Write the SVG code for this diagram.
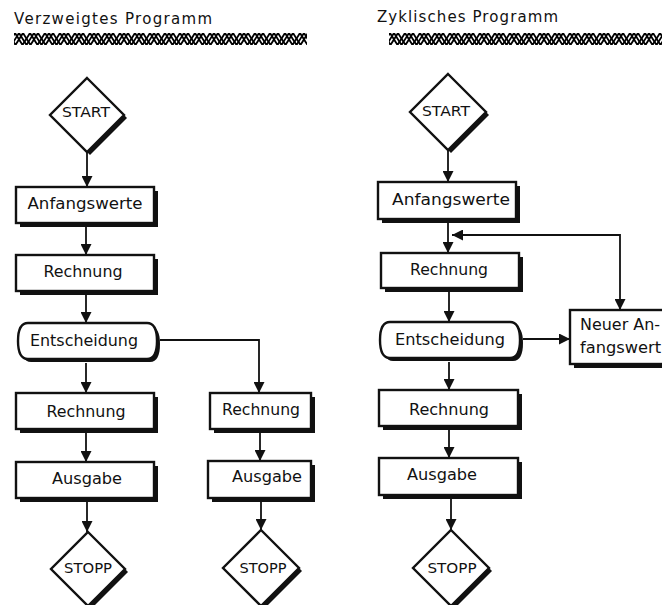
<svg xmlns="http://www.w3.org/2000/svg" width="662" height="605" viewBox="0 0 662 605">
<style>
.lbl{font-family:"DejaVu Sans","Liberation Sans",sans-serif;font-size:16px;fill:#111}
.sm{font-size:14px}
.ttl{font-family:"DejaVu Sans","Liberation Sans",sans-serif;font-size:15px;fill:#111}
.box{fill:#fff;stroke:#111;stroke-width:2.4}
.sh{fill:#111}
.con{fill:none;stroke:#111;stroke-width:1.8}
</style>
<defs>
<marker id="ah" viewBox="0 0 10 10" markerWidth="11" markerHeight="11" refX="10" refY="5" orient="auto-start-reverse" markerUnits="userSpaceOnUse">
<path d="M0,0 L10,5 L0,10 Z" fill="#111"/>
</marker>
<pattern id="zig" patternUnits="userSpaceOnUse" x="0" y="33" width="15" height="12">
<g fill="none" stroke="#000" stroke-width="1.8">
<path d="M-15,0 L-7.5,12 L0,0 L7.5,12 L15,0 L22.5,12"/>
<path d="M-11,0 L-3.5,12 L4,0 L11.5,12 L19,0 L26.5,12"/>
<path d="M-7,0 L0.5,12 L8,0 L15.5,12 L23,0 L30.5,12"/>
</g>
</pattern>
</defs>

<g id="titles">
<text class="ttl" x="14" y="24" textLength="198" lengthAdjust="spacing">Verzweigtes Programm</text>
<rect x="14" y="33" width="293" height="12" fill="url(#zig)"/>
<text class="ttl" x="377" y="22" textLength="181" lengthAdjust="spacing">Zyklisches Programm</text>
<rect x="389" y="33" width="273" height="12" fill="url(#zig)"/>
</g>

<g id="connectors">
<path class="con" d="M87,152 V187" marker-end="url(#ah)"/>
<path class="con" d="M86,227 V255" marker-end="url(#ah)"/>
<path class="con" d="M86,295 V323" marker-end="url(#ah)"/>
<path class="con" d="M86,363 V393" marker-end="url(#ah)"/>
<path class="con" d="M86,433 V462" marker-end="url(#ah)"/>
<path class="con" d="M87,502 V532" marker-end="url(#ah)"/>
<path class="con" d="M160,340 H259 V393" marker-end="url(#ah)"/>
<path class="con" d="M260,433 V461" marker-end="url(#ah)"/>
<path class="con" d="M261,502 V530" marker-end="url(#ah)"/>

<path class="con" d="M448,149 V182" marker-end="url(#ah)"/>
<path class="con" d="M448,223 V253" marker-end="url(#ah)"/>
<path class="con" d="M452,235 H620 V310" marker-start="url(#ah)" marker-end="url(#ah)"/>
<path class="con" d="M449,292 V322" marker-end="url(#ah)"/>
<path class="con" d="M523,339 H570" marker-end="url(#ah)"/>
<path class="con" d="M449,362 V390" marker-end="url(#ah)"/>
<path class="con" d="M449,430 V458" marker-end="url(#ah)"/>
<path class="con" d="M451,499 V530" marker-end="url(#ah)"/>
</g>

<g id="start1">
<polygon class="sh" points="90,81 127,118 90,155 53,118"/>
<polygon class="box" points="87,78 124,115 87,152 50,115"/>
<text class="lbl sm" x="86" y="117" text-anchor="middle" textLength="48" lengthAdjust="spacingAndGlyphs">START</text>
</g>
<g id="anfang1">
<rect class="sh" x="20" y="191" width="138" height="36"/>
<rect class="box" x="16" y="187" width="138" height="36"/>
<text class="lbl" x="85" y="209" text-anchor="middle" textLength="115" lengthAdjust="spacingAndGlyphs">Anfangswerte</text>
</g>
<g id="rechnung1">
<rect class="sh" x="20" y="259" width="138" height="36"/>
<rect class="box" x="16" y="255" width="138" height="36"/>
<text class="lbl" x="83" y="277" text-anchor="middle" textLength="79" lengthAdjust="spacingAndGlyphs">Rechnung</text>
</g>
<g id="entsch1">
<path class="sh" d="M31,326 H150 C157,326 160,333 160,344 C160,355 157,362 150,362 H31 C24,362 21,355 21,344 C21,333 24,326 31,326 Z"/>
<path class="box" d="M28,323 H147 C154,323 157,330 157,341 C157,352 154,359 147,359 H28 C21,359 18,352 18,341 C18,330 21,323 28,323 Z"/>
<text class="lbl" x="84" y="346" text-anchor="middle" textLength="108" lengthAdjust="spacingAndGlyphs">Entscheidung</text>
</g>
<g id="rechnung2">
<rect class="sh" x="20" y="397" width="138" height="36"/>
<rect class="box" x="16" y="393" width="138" height="36"/>
<text class="lbl" x="86" y="417" text-anchor="middle" textLength="79" lengthAdjust="spacingAndGlyphs">Rechnung</text>
</g>
<g id="ausgabe1">
<rect class="sh" x="20" y="466" width="138" height="36"/>
<rect class="box" x="16" y="462" width="138" height="36"/>
<text class="lbl" x="87" y="484" text-anchor="middle" textLength="70" lengthAdjust="spacingAndGlyphs">Ausgabe</text>
</g>
<g id="stopp1">
<polygon class="sh" points="91,535 128,572 91,609 54,572"/>
<polygon class="box" points="88,532 125,569 88,606 51,569"/>
<text class="lbl sm" x="88" y="573" text-anchor="middle" textLength="48" lengthAdjust="spacingAndGlyphs">STOPP</text>
</g>

<g id="rechnung3">
<rect class="sh" x="214" y="397" width="101" height="36"/>
<rect class="box" x="210" y="393" width="101" height="36"/>
<text class="lbl" x="261" y="415" text-anchor="middle" textLength="78" lengthAdjust="spacingAndGlyphs">Rechnung</text>
</g>
<g id="ausgabe2">
<rect class="sh" x="212" y="465" width="103" height="37"/>
<rect class="box" x="208" y="461" width="103" height="37"/>
<text class="lbl" x="267" y="482" text-anchor="middle" textLength="70" lengthAdjust="spacingAndGlyphs">Ausgabe</text>
</g>
<g id="stopp2">
<polygon class="sh" points="264,533 302,571 264,609 226,571"/>
<polygon class="box" points="261,530 299,568 261,606 223,568"/>
<text class="lbl sm" x="263" y="573" text-anchor="middle" textLength="47" lengthAdjust="spacingAndGlyphs">STOPP</text>
</g>

<g id="start2">
<polygon class="sh" points="451,77 489,115 451,153 413,115"/>
<polygon class="box" points="448,74 486,112 448,150 410,112"/>
<text class="lbl sm" x="446" y="116" text-anchor="middle" textLength="48" lengthAdjust="spacingAndGlyphs">START</text>
</g>
<g id="anfang2">
<rect class="sh" x="382" y="186" width="138" height="37"/>
<rect class="box" x="378" y="182" width="138" height="37"/>
<text class="lbl" x="451" y="205" text-anchor="middle" textLength="118" lengthAdjust="spacingAndGlyphs">Anfangswerte</text>
</g>
<g id="rechnung4">
<rect class="sh" x="385" y="257" width="138" height="35"/>
<rect class="box" x="381" y="253" width="138" height="35"/>
<text class="lbl" x="449" y="275" text-anchor="middle" textLength="78" lengthAdjust="spacingAndGlyphs">Rechnung</text>
</g>
<g id="entsch2">
<path class="sh" d="M393,325 H513 C520,325 523,332 523,343 C523,354 520,361 513,361 H393 C386,361 383,354 383,343 C383,332 386,325 393,325 Z"/>
<path class="box" d="M390,322 H510 C517,322 520,329 520,340 C520,351 517,358 510,358 H390 C383,358 380,351 380,340 C380,329 383,322 390,322 Z"/>
<text class="lbl" x="450" y="345" text-anchor="middle" textLength="110" lengthAdjust="spacingAndGlyphs">Entscheidung</text>
</g>
<g id="neuer">
<rect class="sh" x="574" y="314" width="100" height="54"/>
<rect class="box" x="570" y="310" width="100" height="54"/>
<text class="lbl" x="580" y="330" textLength="80" lengthAdjust="spacingAndGlyphs">Neuer An-</text>
<text class="lbl" x="580" y="353" textLength="81" lengthAdjust="spacingAndGlyphs">fangswert</text>
</g>
<g id="rechnung5">
<rect class="sh" x="383" y="394" width="139" height="36"/>
<rect class="box" x="379" y="390" width="139" height="36"/>
<text class="lbl" x="449" y="415" text-anchor="middle" textLength="80" lengthAdjust="spacingAndGlyphs">Rechnung</text>
</g>
<g id="ausgabe3">
<rect class="sh" x="383" y="462" width="139" height="37"/>
<rect class="box" x="379" y="458" width="139" height="37"/>
<text class="lbl" x="442" y="480" text-anchor="middle" textLength="70" lengthAdjust="spacingAndGlyphs">Ausgabe</text>
</g>
<g id="stopp3">
<polygon class="sh" points="454,533 492,571 454,609 416,571"/>
<polygon class="box" points="451,530 489,568 451,606 413,568"/>
<text class="lbl sm" x="452" y="573" text-anchor="middle" textLength="49" lengthAdjust="spacingAndGlyphs">STOPP</text>
</g>
</svg>
